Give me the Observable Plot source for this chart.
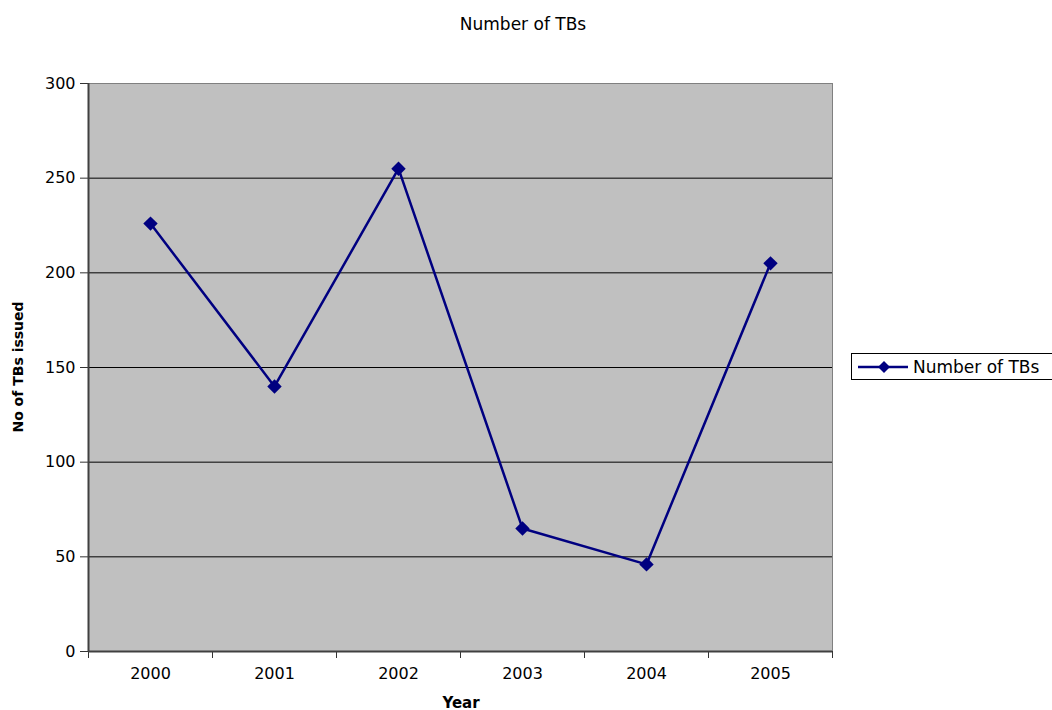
<!DOCTYPE html>
<html>
<head>
<meta charset="utf-8">
<script src="https://cdn.jsdelivr.net/npm/d3@7"></script>
<script src="https://cdn.jsdelivr.net/npm/@observablehq/plot@0.6"></script>
<style>
  body { margin: 0; background: white; }
  #wrap { position: relative; width: 1052px; height: 710px; overflow: hidden; font-family: "DejaVu Sans", "Liberation Sans", Arial, sans-serif; }
  #wrap svg.plot { position: absolute; left: 0; top: 0; }
  .title { position: absolute; top: 14px; left: 0; width: 1046px; text-align: center; font-size: 17px; }
  .ylab { position: absolute; left: 18px; top: 367px; transform: translate(-50%, -50%) rotate(-90deg); font-size: 14px; font-weight: bold; white-space: nowrap; }
  .xlab { position: absolute; left: 461px; top: 703px; transform: translate(-50%, -50%); font-size: 15px; font-weight: bold; line-height: 15px; }
  .legend { position: absolute; left: 851px; top: 353px; width: 205px; height: 27px; border: 1px solid #000; box-sizing: border-box; display: flex; align-items: center; font-size: 17px; white-space: nowrap; }
  .legend svg { margin-left: 6px; margin-right: 5px; flex: none; }
</style>
</head>
<body>
<div id="wrap">
  <div class="title">Number of TBs</div>
  <div class="ylab">No of TBs issued</div>
  <div class="xlab">Year</div>
  <div class="legend"><svg width="50" height="14"><line x1="0" y1="7" x2="50" y2="7" stroke="#000080" stroke-width="2.5"/><path d="M26 1 L32 7 L26 13 L20 7 Z" fill="#000080"/></svg><span>Number of TBs</span></div>
</div>
<script>
const years = [2000, 2001, 2002, 2003, 2004, 2005];
const tbs = [226, 140, 255, 65, 46, 205];
const yTicks = [0, 50, 100, 150, 200, 250, 300];
const gridTicks = [50, 100, 150, 200, 250];
const bandEdges = [1999.5, 2000.5, 2001.5, 2002.5, 2003.5, 2004.5, 2005.5];

const data = years.map((y, i) => ({year: y, value: tbs[i]}));

const chart = Plot.plot({
  width: 1052,
  height: 710,
  marginLeft: 88,
  marginRight: 220,
  marginTop: 83,
  marginBottom: 59,
  style: {fontFamily: "DejaVu Sans, Liberation Sans, Arial, sans-serif", fontSize: "16px", background: "transparent", color: "#000"},
  x: {domain: [1999.5, 2005.5]},
  y: {domain: [0, 300]},
  marks: [
    Plot.frame({fill: "#C0C0C0", stroke: "#808080"}),
    Plot.ruleY(gridTicks, {stroke: "#000", strokeWidth: 1}),
    Plot.axisY({ticks: yTicks, tickSize: 8, tickPadding: 5, label: null, stroke: "#333"}),
    Plot.axisX({ticks: years, tickSize: 0, tickPadding: 16, tickFormat: "d", label: null}),
    Plot.axisX({ticks: bandEdges, tickSize: 7, tickFormat: () => "", label: null, stroke: "#333"}),
    Plot.ruleY([0], {stroke: "#404040", strokeWidth: 2}),
    Plot.ruleX([1999.5], {stroke: "#404040", strokeWidth: 2}),
    Plot.line(data, {x: "year", y: "value", stroke: "#000080", strokeWidth: 2.5}),
    Plot.dot(data, {x: "year", y: "value", symbol: "diamond2", r: 6.5, fill: "#000080", stroke: "none"})
  ]
});
chart.classList.add("plot");
document.getElementById("wrap").appendChild(chart);
</script>
</body>
</html>
